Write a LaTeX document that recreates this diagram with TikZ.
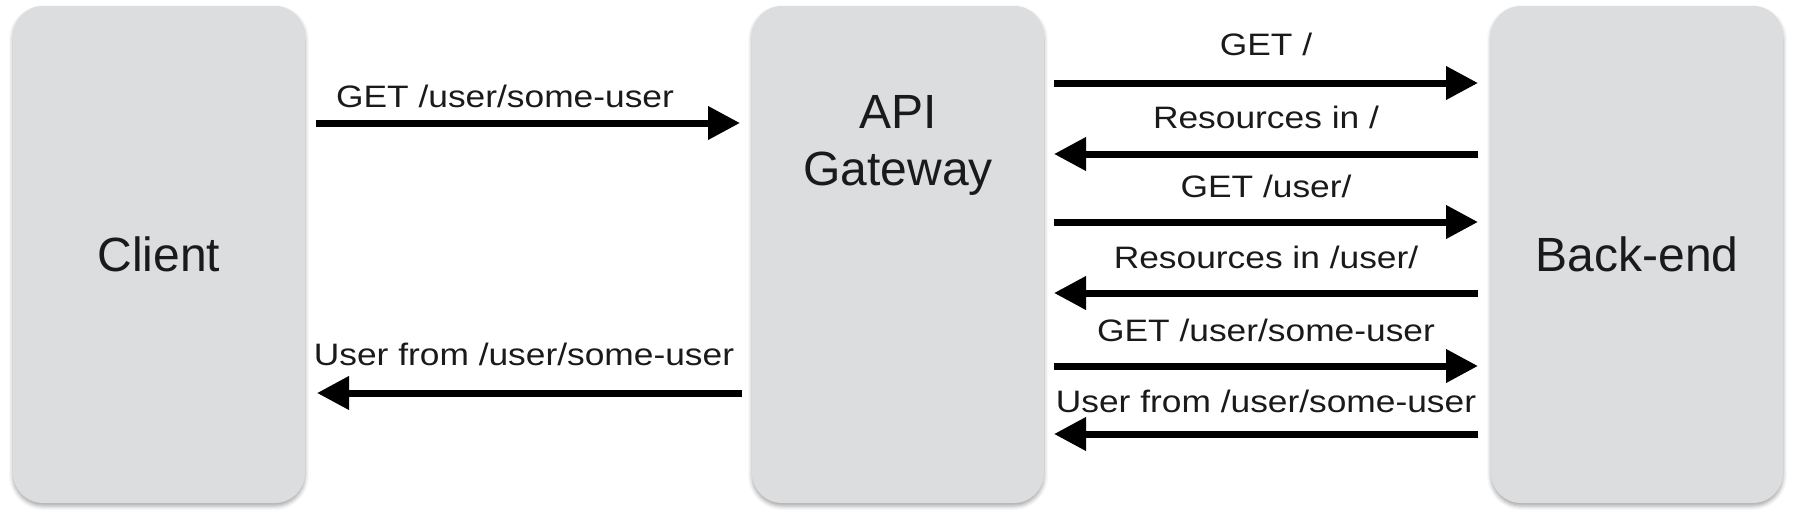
\documentclass[tikz,border=0pt]{standalone}
\usepackage{fontspec}
\setmainfont{Liberation Sans}
\newfontfamily\lblfont[FakeStretch=1.14]{Liberation Sans}
\usetikzlibrary{arrows.meta,shadows.blur}
\definecolor{boxgray}{HTML}{DCDDDF}
\definecolor{txt}{HTML}{1A1A1A}
\tikzset{
  box/.style={draw=none, fill=boxgray, rounded corners=30pt, minimum width=292pt,
    minimum height=497pt, inner sep=0pt, outer sep=0pt, text=txt,
    font=\fontsize{48}{57}\selectfont,
    blur shadow={shadow xshift=0pt, shadow yshift=-3pt, shadow blur radius=4pt, shadow opacity=35}},
  arr/.style={line width=7pt, -{Triangle[length=32pt,width=32pt]}},
  lbl/.style={anchor=base, inner sep=0pt, text=txt, font=\lblfont\fontsize{31}{37}\selectfont}
}
\begin{document}
\begin{tikzpicture}[x=1pt,y=-1pt]
\useasboundingbox (0,0) rectangle (1800,522);
\node[box] (client) at (159,254.5) {Client};
\node[box] (api) at (898,254.5) {};
\node[box] (be) at (1637,254.5) {Back-end};
\node[anchor=north, inner sep=0pt, align=center, text=txt, font=\fontsize{48}{57}\selectfont] (apitext) at (898,95) {API\\Gateway};

% client <-> api
\draw[arr, shorten <=11pt, shorten >=12pt] (client.east |- 0,123) -- (api.west |- 0,123);
\node[lbl] (l1) at (505,107) {GET /user/some-user};
\draw[arr, shorten <=10pt, shorten >=12pt] (api.west |- 0,393) -- (client.east |- 0,393);
\node[lbl] (l2) at (524,365) {User from /user/some-user};

% api <-> back-end
\draw[arr, shorten <=10pt, shorten >=13pt] (api.east |- 0,83) -- (be.west |- 0,83);
\node[lbl] (r1) at (1266,55) {GET /};
\draw[arr, shorten <=13pt, shorten >=10pt] (be.west |- 0,154) -- (api.east |- 0,154);
\node[lbl] (r2) at (1266,128) {Resources in /};
\draw[arr, shorten <=10pt, shorten >=13pt] (api.east |- 0,222) -- (be.west |- 0,222);
\node[lbl] (r3) at (1266,197) {GET /user/};
\draw[arr, shorten <=13pt, shorten >=10pt] (be.west |- 0,293) -- (api.east |- 0,293);
\node[lbl] (r4) at (1266,268) {Resources in /user/};
\draw[arr, shorten <=10pt, shorten >=13pt] (api.east |- 0,366) -- (be.west |- 0,366);
\node[lbl] (r5) at (1266,341) {GET /user/some-user};
\draw[arr, shorten <=13pt, shorten >=10pt] (be.west |- 0,434) -- (api.east |- 0,434);
\node[lbl] (r6) at (1266,412) {User from /user/some-user};
\end{tikzpicture}
\end{document}
